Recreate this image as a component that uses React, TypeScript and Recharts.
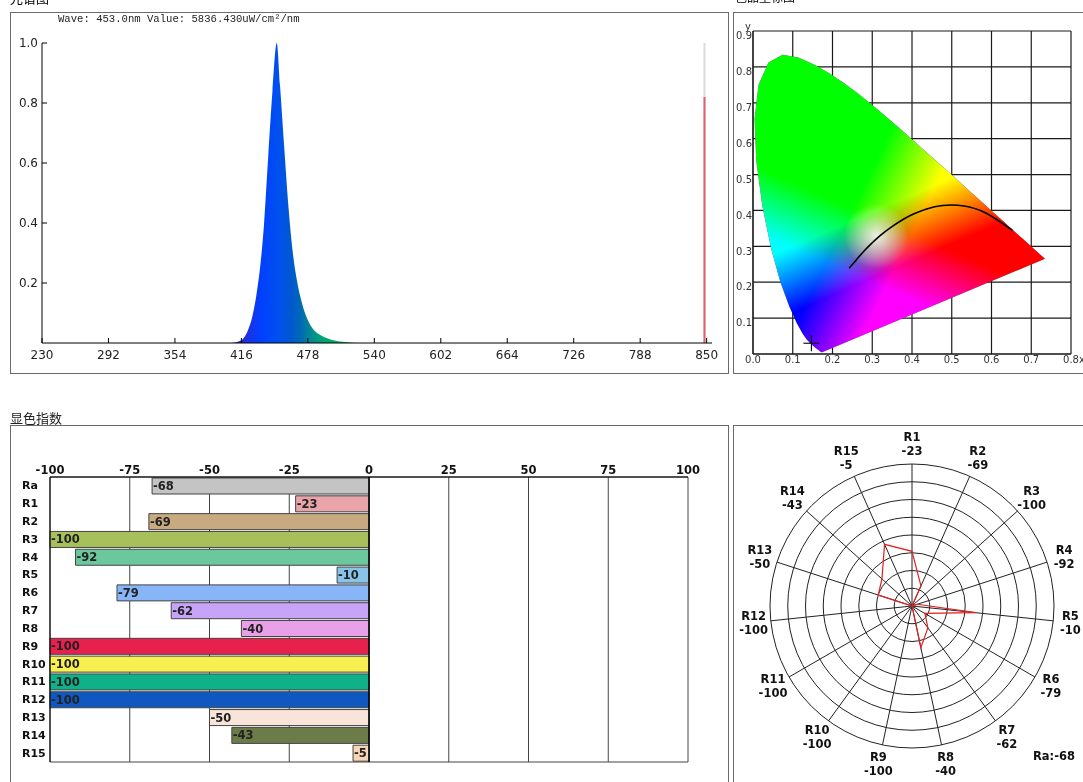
import React from "react";
import {
  AreaChart,
  Area,
  XAxis,
  YAxis,
  ReferenceLine,
  ScatterChart,
  Scatter,
  BarChart,
  Bar,
  Cell,
  LabelList,
  CartesianGrid,
  RadarChart,
  Radar,
  PolarGrid,
  PolarAngleAxis,
  PolarRadiusAxis,
} from "recharts";

// ---- spectrum ----
const specWave = [405, 410, 414, 418, 422, 426, 430, 434, 437, 441, 445, 449, 452, 456, 460, 464, 468, 472, 476, 480, 484, 490, 496, 502, 510, 520, 530];
const specValue = [0, 0.002, 0.006, 0.016, 0.042, 0.085, 0.16, 0.27, 0.39, 0.62, 0.84, 1.0, 0.86, 0.65, 0.45, 0.3, 0.205, 0.14, 0.093, 0.062, 0.042, 0.026, 0.016, 0.009, 0.004, 0.001, 0];
const specXTicks = [230, 292, 354, 416, 478, 540, 602, 664, 726, 788, 850];
const specYTicks = [0.2, 0.4, 0.6, 0.8, 1.0];
const markerWave = 848;
const markerValue = 0.82;
const headerText = "Wave: 453.0nm Value: 5836.430uW/cm\u00b2/nm";

// ---- CIE 1931 ----
const locusX = [0.1741, 0.1714, 0.1644, 0.1566, 0.144, 0.1355, 0.1241, 0.1096, 0.0913, 0.0687, 0.0454, 0.0235, 0.0082, 0.0039, 0.0139, 0.0389, 0.0743, 0.1142, 0.1547, 0.1929, 0.2296, 0.2658, 0.3016, 0.3373, 0.3731, 0.4087, 0.4441, 0.4788, 0.5125, 0.5448, 0.5752, 0.6029, 0.627, 0.6482, 0.6658, 0.6915, 0.7079, 0.719, 0.726, 0.7347];
const locusY = [0.005, 0.0051, 0.0109, 0.0177, 0.0297, 0.0399, 0.0578, 0.0868, 0.1327, 0.2007, 0.295, 0.4127, 0.5384, 0.6548, 0.7502, 0.812, 0.8338, 0.8262, 0.8059, 0.7816, 0.7543, 0.7243, 0.6923, 0.6589, 0.6245, 0.5896, 0.5547, 0.5202, 0.4866, 0.4544, 0.4242, 0.3965, 0.3725, 0.3514, 0.334, 0.3083, 0.292, 0.2809, 0.274, 0.2653];
const planckX = [0.6528, 0.5857, 0.5267, 0.477, 0.4369, 0.4053, 0.3805, 0.3451, 0.3221, 0.3064, 0.2952, 0.2806, 0.2637, 0.2565, 0.2461, 0.242];
const planckY = [0.3444, 0.3931, 0.4133, 0.4137, 0.4041, 0.3907, 0.3768, 0.3516, 0.3318, 0.3166, 0.3048, 0.2883, 0.2673, 0.2577, 0.2445, 0.239];
const measured = [{ x: 0.147, y: 0.03 }];
const cieXTicks = [0, 0.1, 0.2, 0.3, 0.4, 0.5, 0.6, 0.7, 0.8];
const cieYTicks = [0, 0.1, 0.2, 0.3, 0.4, 0.5, 0.6, 0.7, 0.8, 0.9];

// ---- colour rendering index ----
const criNames = ["Ra", "R1", "R2", "R3", "R4", "R5", "R6", "R7", "R8", "R9", "R10", "R11", "R12", "R13", "R14", "R15"];
const criValues = [-68, -23, -69, -100, -92, -10, -79, -62, -40, -100, -100, -100, -100, -50, -43, -5];
const criColors = ["#c4c4c4", "#e8a4a8", "#c8aa80", "#a8c05c", "#6cc89c", "#88c4e8", "#88b4f8", "#c8a4f8", "#e8a0e8", "#e8204c", "#f8f050", "#10b088", "#1058c0", "#f8e4d8", "#6c7c48", "#f8d4b8"];
const barTicks = [-100, -75, -50, -25, 0, 25, 50, 75, 100];

const specData = specWave.map((w, i) => ({ w, v: specValue[i] }));
const locusData = locusX.map((x, i) => ({ x, y: locusY[i] }));
const planckData = planckX.map((x, i) => ({ x, y: planckY[i] }));
const barData = criNames.map((name, i) => ({ name, value: criValues[i], color: criColors[i] }));
const radarData = barData.slice(1);

const RCX = 179;
const RCY = 181;

const font = "DejaVu Sans, Verdana, sans-serif";

const SpecYTick = (p: any) => (
  <g>
    <line x1={p.x + 4} x2={p.x + 9} y1={p.y} y2={p.y} stroke="#000" />
    <text x={p.x} y={p.y} textAnchor="end" dominantBaseline="central" fontSize={12} fill="#222" fontFamily={font}>
      {Number(p.payload.value).toFixed(1)}
    </text>
  </g>
);

const SpecXTick = (p: any) => (
  <g>
    <line x1={p.x} x2={p.x} y1={p.y - 7} y2={p.y - 12} stroke="#000" />
    <text x={p.x} y={p.y} dy="0.71em" textAnchor="middle" fontSize={12} fill="#222" fontFamily={font}>
      {p.payload.value}
    </text>
  </g>
);

const CieXTick = (p: any) => {
  const v = Number(p.payload.value);
  return (
    <g>
      <text x={p.x} y={p.y} dy="0.71em" textAnchor="middle" fontSize={10} fill="#333" fontFamily={font}>
        {v.toFixed(1)}
      </text>
      {v === 0.8 && (
        <text x={p.x + 8} y={p.y} dy="0.71em" textAnchor="start" fontSize={10} fill="#333" fontFamily={font}>
          x
        </text>
      )}
    </g>
  );
};

const CieYTick = (p: any) => {
  const v = Number(p.payload.value);
  if (v === 0) return <g />;
  return (
    <g>
      <text x={p.x} y={p.y + 1} dominantBaseline="hanging" textAnchor="end" fontSize={10} fill="#333" fontFamily={font}>
        {v.toFixed(1)}
      </text>
      {v === 0.9 && (
        <text x={p.x - 4} y={p.y - 1} textAnchor="middle" fontSize={10} fill="#333" fontFamily={font}>
          y
        </text>
      )}
    </g>
  );
};

const locusShape = (props: any) => {
  const pts: { x: number; y: number }[] = props.points || [];
  if (!pts.length) return <g />;
  const d = "M" + pts.map((pt) => `${pt.x},${pt.y}`).join("L") + "Z";
  const blend = { mixBlendMode: "screen" as const };
  return (
    <g>
      <path d={d} fill="#000" />
      <path d={d} fill="url(#cieR)" style={blend} />
      <path d={d} fill="url(#cieG)" style={blend} />
      <path d={d} fill="url(#cieB)" style={blend} />
      <path d={d} fill="url(#cieW)" style={blend} />
    </g>
  );
};

const CrossShape = (p: any) => (
  <g stroke="#111" strokeWidth={1.2}>
    <line x1={p.cx - 8} x2={p.cx + 8} y1={p.cy} y2={p.cy} />
    <line x1={p.cx} x2={p.cx} y1={p.cy - 8} y2={p.cy + 8} />
  </g>
);

const BarCatTick = (p: any) => (
  <text x={12} y={p.y} dominantBaseline="central" fontSize={11} fontWeight="bold" fill="#111" fontFamily={font}>
    {p.payload.value}
  </text>
);

const barLabel = (p: any) => {
  const vb = p.viewBox || p;
  const x = Number(vb.x);
  const w = Number(vb.width);
  const y = Number(vb.y);
  const h = Number(vb.height);
  const left = Math.min(x, x + w);
  return (
    <text x={left + 1} y={y + h / 2} dominantBaseline="central" fontSize={11.5} fontWeight="bold" fill="#222" fontFamily={font}>
      {p.value}
    </text>
  );
};

const RadarTick = (p: any) => {
  const dx = p.x - RCX;
  const dy = p.y - RCY;
  const len = Math.hypot(dx, dy) || 1;
  const ux = dx / len;
  const uy = dy / len;
  const r = len + 9 + 3 * Math.abs(uy);
  const px = RCX + ux * r;
  const py = RCY + uy * r;
  const item = radarData.find((d) => d.name === p.payload.value);
  return (
    <g fontSize={11.5} fontWeight="bold" fill="#111" fontFamily={font}>
      <text x={px} y={py - 7} textAnchor="middle" dominantBaseline="central">
        {p.payload.value}
      </text>
      <text x={px} y={py + 7} textAnchor="middle" dominantBaseline="central">
        {item ? item.value : ""}
      </text>
    </g>
  );
};

const panel = (left: number, top: number, width: number, height: number): React.CSSProperties => ({
  position: "absolute",
  left,
  top,
  width,
  height,
  border: "1px solid #6a6a6a",
  boxSizing: "border-box",
});

export default function App() {
  return (
    <div
      style={{
        position: "fixed",
        left: 0,
        top: 0,
        width: 1083,
        height: 782,
        background: "#fff",
        overflow: "hidden",
        fontFamily: font,
      }}
    >
      <div style={{ position: "absolute", left: 10, top: -12, fontSize: 13, fontFamily: "Noto Sans CJK SC" }}>光谱图</div>
      <div style={{ position: "absolute", left: 735, top: -12, fontSize: 12, fontFamily: "Noto Sans CJK SC" }}>色品坐标图</div>
      <div style={{ position: "absolute", left: 10, top: 408, fontSize: 13, fontFamily: "Noto Sans CJK SC", color: "#222" }}>显色指数</div>

      <div style={panel(10, 12, 719, 362)} />
      <div style={panel(733, 12, 360, 362)} />
      <div style={panel(10, 425, 719, 370)} />
      <div style={panel(733, 425, 360, 370)} />

      {/* spectrum */}
      <div style={{ position: "absolute", left: 10, top: 12 }}>
        <AreaChart width={718} height={361} data={specData} margin={{ top: 31, right: 16, bottom: 0, left: 2 }}>
          <defs>
            <linearGradient id="specFill" x1="0" y1="0" x2="1" y2="0">
              <stop offset="0%" stopColor="#2818b0" />
              <stop offset="12%" stopColor="#2030e0" />
              <stop offset="24%" stopColor="#0040ff" />
              <stop offset="36%" stopColor="#0050f0" />
              <stop offset="46%" stopColor="#0058d0" />
              <stop offset="54%" stopColor="#006cb0" />
              <stop offset="62%" stopColor="#00908c" />
              <stop offset="72%" stopColor="#00a870" />
              <stop offset="84%" stopColor="#00b050" />
              <stop offset="100%" stopColor="#10b040" />
            </linearGradient>
          </defs>
          <XAxis
            dataKey="w"
            type="number"
            domain={[230, 855]}
            ticks={specXTicks}
            height={30}
            tickSize={0}
            tickMargin={7}
            tickLine={false}
            axisLine={{ stroke: "#000" }}
            tick={<SpecXTick />}
          />
          <YAxis
            type="number"
            domain={[0, 1]}
            ticks={specYTicks}
            width={30}
            tickSize={0}
            tickMargin={4}
            tickLine={false}
            axisLine={{ stroke: "#000" }}
            tick={<SpecYTick />}
          />
          <Area
            type="monotone"
            dataKey="v"
            stroke="none"
            fill="url(#specFill)"
            fillOpacity={1}
            baseValue={0}
            isAnimationActive={false}
          />
          <ReferenceLine x={markerWave} stroke="#dcdcdc" strokeWidth={2} />
          <ReferenceLine
            segment={[
              { x: markerWave, y: 0 },
              { x: markerWave, y: markerValue },
            ]}
            stroke="#e06070"
            strokeWidth={2}
          />
        </AreaChart>
      </div>
      <div
        style={{
          position: "absolute",
          left: 58,
          top: 13,
          fontSize: 10.6,
          fontFamily: "Liberation Mono, monospace",
          color: "#222",
          whiteSpace: "pre",
        }}
      >
        {headerText}
      </div>

      {/* CIE chromaticity */}
      <div style={{ position: "absolute", left: 733, top: 12 }}>
        <ScatterChart width={350} height={361} margin={{ top: 19, right: 12, bottom: 0, left: 0 }}>
          <defs>
            <linearGradient id="cieR" x1="0.17" y1="0.85" x2="0.37" y2="0.95">
              <stop offset="0%" stopColor="#000" />
              <stop offset="100%" stopColor="#ff0000" />
            </linearGradient>
            <linearGradient id="cieG" x1="0.445" y1="0.735" x2="0.365" y2="0.545">
              <stop offset="0%" stopColor="#000" />
              <stop offset="100%" stopColor="#00ff00" />
            </linearGradient>
            <linearGradient id="cieB" x1="0.395" y1="0.54" x2="0.315" y2="0.73">
              <stop offset="0%" stopColor="#000" />
              <stop offset="100%" stopColor="#0000ff" />
            </linearGradient>
            <radialGradient id="cieW" cx="0.42" cy="0.61" r="0.11">
              <stop offset="0%" stopColor="#fff" stopOpacity={0.85} />
              <stop offset="100%" stopColor="#fff" stopOpacity={0} />
            </radialGradient>
          </defs>
          <XAxis
            dataKey="x"
            type="number"
            domain={[0, 0.8]}
            ticks={cieXTicks}
            height={19}
            tickSize={0}
            tickMargin={2}
            tickLine={false}
            axisLine={{ stroke: "#111" }}
            tick={<CieXTick />}
          />
          <YAxis
            dataKey="y"
            type="number"
            domain={[0, 0.9]}
            ticks={cieYTicks}
            width={20}
            tickSize={0}
            tickMargin={1}
            tickLine={false}
            axisLine={{ stroke: "#111" }}
            tick={<CieYTick />}
          />
          <Scatter
            data={locusData}
            line={locusShape}
            lineType="joint"
            shape={() => <g />}
            isAnimationActive={false}
          />
          {cieXTicks.map((t) => (
            <ReferenceLine key={"vx" + t} x={t} stroke="#1a1a1a" strokeWidth={1.2} />
          ))}
          {cieYTicks.map((t) => (
            <ReferenceLine key={"hy" + t} y={t} stroke="#1a1a1a" strokeWidth={1.2} />
          ))}
          <Scatter
            data={planckData}
            line={{ stroke: "#000", strokeWidth: 1.6 }}
            lineType="joint"
            lineJointType="natural"
            shape={() => <g />}
            isAnimationActive={false}
          />
          <Scatter data={measured} shape={<CrossShape />} isAnimationActive={false} />
        </ScatterChart>
      </div>

      {/* colour rendering bars */}
      <div style={{ position: "absolute", left: 10, top: 425 }}>
        <BarChart
          width={718}
          height={357}
          data={barData}
          layout="vertical"
          barCategoryGap={1}
          margin={{ top: 32, right: 40, bottom: 20, left: 10 }}
        >
          <CartesianGrid
            stroke="#444"
            horizontalCoordinatesGenerator={(args: any) =>
              args && args.offset ? [args.offset.top, args.offset.top + args.offset.height] : []
            }
          />
          <XAxis
            type="number"
            orientation="top"
            domain={[-100, 100]}
            ticks={barTicks}
            height={20}
            tickSize={0}
            tickMargin={3}
            tickLine={false}
            axisLine={{ stroke: "#000" }}
            tick={{ fontSize: 11.5, fontWeight: "bold", fill: "#111", fontFamily: font }}
          />
          <YAxis
            type="category"
            dataKey="name"
            width={30}
            tickLine={false}
            axisLine={{ stroke: "#000" }}
            tick={<BarCatTick />}
            interval={0}
          />
          <Bar dataKey="value" stroke="#444" strokeWidth={1} isAnimationActive={false}>
            {barData.map((d) => (
              <Cell key={d.name} fill={d.color} />
            ))}
            <LabelList dataKey="value" content={barLabel} />
          </Bar>
          <ReferenceLine x={0} stroke="#000" strokeWidth={1.5} />
        </BarChart>
      </div>

      {/* radar */}
      <div style={{ position: "absolute", left: 733, top: 425 }}>
        <RadarChart
          width={350}
          height={357}
          data={radarData}
          cx={RCX}
          cy={RCY}
          outerRadius={142}
          startAngle={90}
          endAngle={-270}
        >
          <PolarGrid gridType="circle" stroke="#222" />
          <PolarAngleAxis dataKey="name" axisLine={false} tickLine={false} tick={<RadarTick />} />
          <PolarRadiusAxis domain={[-100, 100]} tickCount={9} tick={false} axisLine={false} />
          <Radar
            dataKey="value"
            stroke="#e02020"
            strokeWidth={1.2}
            fill="none"
            fillOpacity={0}
            dot={false}
            isAnimationActive={false}
          />
        </RadarChart>
        <div
          style={{
            position: "absolute",
            left: 300,
            top: 324,
            fontSize: 11.5,
            fontWeight: "bold",
            color: "#111",
            whiteSpace: "pre",
          }}
        >
          {"Ra:" + criValues[0]}
        </div>
      </div>
    </div>
  );
}
